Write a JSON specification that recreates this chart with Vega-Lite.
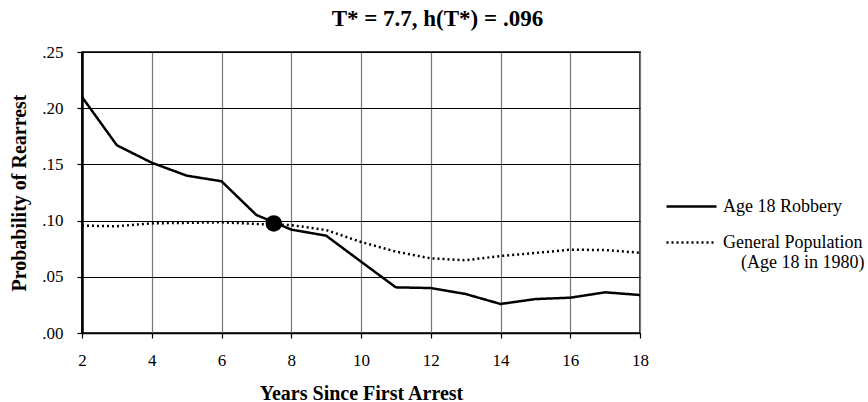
{
  "$schema": "https://vega.github.io/schema/vega-lite/v6.json",
  "width": 558,
  "height": 281,
  "autosize": {"type": "none"},
  "padding": {"left": 82, "top": 52, "right": 228, "bottom": 69},
  "background": "white",
  "title": {
    "text": "T* = 7.7, h(T*) = .096",
    "font": "Times New Roman",
    "fontSize": 23,
    "fontWeight": "bold",
    "color": "black",
    "anchor": "middle",
    "frame": "bounds",
    "offset": 12
  },
  "config": {
    "font": "Times New Roman",
    "view": {"stroke": "black", "strokeWidth": 1.5},
    "axis": {
      "labelFont": "Times New Roman",
      "labelFontSize": 17,
      "labelColor": "black",
      "titleFont": "Times New Roman",
      "titleFontSize": 20,
      "titleFontWeight": "bold",
      "titleColor": "black",
      "tickColor": "black",
      "domainColor": "black"
    },
    "legend": {
      "labelFont": "Times New Roman",
      "labelFontSize": 18,
      "labelColor": "black"
    }
  },
  "datasets": {
    "series": [
      {"year": 2, "group": "Age 18 Robbery", "p": 0.210},
      {"year": 3, "group": "Age 18 Robbery", "p": 0.167},
      {"year": 4, "group": "Age 18 Robbery", "p": 0.1515},
      {"year": 5, "group": "Age 18 Robbery", "p": 0.140},
      {"year": 6, "group": "Age 18 Robbery", "p": 0.135},
      {"year": 7, "group": "Age 18 Robbery", "p": 0.105},
      {"year": 8, "group": "Age 18 Robbery", "p": 0.092},
      {"year": 9, "group": "Age 18 Robbery", "p": 0.0866},
      {"year": 10, "group": "Age 18 Robbery", "p": 0.0635},
      {"year": 11, "group": "Age 18 Robbery", "p": 0.0406},
      {"year": 12, "group": "Age 18 Robbery", "p": 0.040},
      {"year": 13, "group": "Age 18 Robbery", "p": 0.0347},
      {"year": 14, "group": "Age 18 Robbery", "p": 0.0258},
      {"year": 15, "group": "Age 18 Robbery", "p": 0.0302},
      {"year": 16, "group": "Age 18 Robbery", "p": 0.0314},
      {"year": 17, "group": "Age 18 Robbery", "p": 0.0362},
      {"year": 18, "group": "Age 18 Robbery", "p": 0.0338},
      {"year": 2, "group": "General Population", "p": 0.0955},
      {"year": 3, "group": "General Population", "p": 0.095},
      {"year": 4, "group": "General Population", "p": 0.0976},
      {"year": 5, "group": "General Population", "p": 0.098},
      {"year": 6, "group": "General Population", "p": 0.0985},
      {"year": 7, "group": "General Population", "p": 0.097},
      {"year": 8, "group": "General Population", "p": 0.096},
      {"year": 9, "group": "General Population", "p": 0.0916},
      {"year": 10, "group": "General Population", "p": 0.081},
      {"year": 11, "group": "General Population", "p": 0.0724},
      {"year": 12, "group": "General Population", "p": 0.0664},
      {"year": 13, "group": "General Population", "p": 0.0647},
      {"year": 14, "group": "General Population", "p": 0.0685},
      {"year": 15, "group": "General Population", "p": 0.0712},
      {"year": 16, "group": "General Population", "p": 0.0741},
      {"year": 17, "group": "General Population", "p": 0.0738},
      {"year": 18, "group": "General Population", "p": 0.0714}
    ],
    "marker": [{"year": 7.5, "p": 0.0975}]
  },
  "layer": [
    {
      "data": {"name": "series"},
      "mark": {"type": "line", "color": "black", "strokeWidth": 2.5},
      "encoding": {
        "x": {
          "field": "year", "type": "quantitative",
          "scale": {"domain": [2, 18], "nice": false},
          "axis": {
            "title": "Years Since First Arrest",
            "values": [2,3,4,5,6,7,8,9,10,11,12,13,14,15,16,17,18],
            "labelExpr": "datum.value % 2 == 0 ? datum.label : ''",
            "grid": true, "gridColor": "#777777", "gridWidth": 1.2, "gridOpacity": 1,
            "tickSize": 5, "tickWidth": 1.2,
            "domainWidth": 1.5,
            "labelPadding": 14,
            "titlePadding": 15,
            "labelFlush": false
          }
        },
        "y": {
          "field": "p", "type": "quantitative",
          "scale": {"domain": [0, 0.25], "nice": false},
          "axis": {
            "title": "Probability of Rearrest",
            "values": [0, 0.05, 0.1, 0.15, 0.2, 0.25],
            "labelExpr": "replace(format(datum.value, '.2f'), '0.', '.')",
            "grid": true, "gridColor": "black", "gridWidth": 1.2, "gridOpacity": 1,
            "tickSize": 5, "tickWidth": 1.2,
            "domainWidth": 2.5,
            "labelPadding": 14,
            "titlePadding": 12,
            "labelFlush": false
          }
        },
        "strokeDash": {
          "field": "group", "type": "nominal",
          "scale": {"domain": ["Age 18 Robbery", "General Population"], "range": [[1, 0], [2, 3]]},
          "legend": {
            "title": null,
            "orient": "none",
            "legendX": 583,
            "legendY": 128,
            "symbolType": "stroke",
            "symbolSize": 2500,
            "symbolStrokeWidth": 2.5,
            "symbolStrokeColor": "black",
            "labelOffset": 5,
            "rowPadding": 0,
            "labelLimit": 250,
            "labelExpr": "datum.label == 'General Population' ? ['General Population', '\u200b\u00a0\u00a0\u00a0\u00a0(Age 18 in 1980)'] : datum.label"
          }
        }
      }
    },
    {
      "data": {"name": "marker"},
      "mark": {"type": "point", "filled": true, "color": "black", "opacity": 1, "size": 270},
      "encoding": {
        "x": {"field": "year", "type": "quantitative"},
        "y": {"field": "p", "type": "quantitative"}
      }
    }
  ]
}
